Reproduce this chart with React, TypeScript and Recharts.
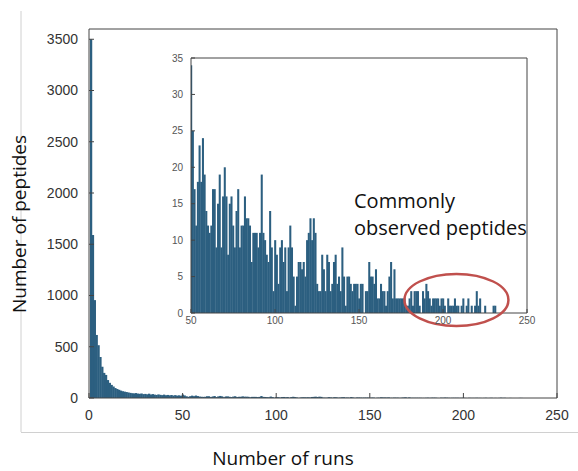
import React from "react";
import { BarChart, Bar, XAxis, YAxis, ReferenceDot } from "recharts";

// peptides seen in exactly N runs, N = 1..49
const earlyCounts = [
  3500, 1590, 955, 615, 515, 400, 305, 245, 225, 175,
  148, 128, 112, 97, 88, 80, 72, 66, 62, 58,
  54, 50, 47, 45, 48, 43, 41, 44, 38, 40,
  36, 42, 34, 38, 33, 30, 35, 31, 28, 33,
  27, 30, 26, 29, 24, 28, 23, 26, 22,
];

// N = 50..231
const tailCounts = [
  34, 25, 17, 12, 18, 23, 18, 24, 19, 14,
  12, 11, 12, 17, 17, 9, 15, 19, 9, 16,
  20, 16, 8, 15, 16, 12, 9, 14, 17, 9,
  12, 12, 16, 13, 13, 12, 7, 11, 11, 11,
  9, 11, 19, 11, 10, 8, 7, 14, 9, 3,
  10, 8, 4, 9, 10, 7, 9, 3, 9, 12,
  9, 5, 1, 5, 7, 7, 6, 7, 5, 10,
  11, 13, 10, 13, 11, 4, 3, 3, 8, 6,
  3, 8, 7, 3, 4, 7, 8, 4, 5, 3,
  9, 5, 1, 5, 5, 4, 3, 4, 4, 4,
  2, 4, 4, 0, 3, 3, 7, 5, 5, 4,
  6, 2, 2, 4, 3, 3, 1, 3, 5, 7,
  2, 6, 2, 2, 2, 2, 2, 2, 1, 1,
  2, 3, 1, 3, 3, 3, 1, 0, 3, 2,
  4, 3, 2, 1, 2, 2, 2, 2, 1, 2,
  2, 1, 0, 2, 1, 1, 1, 2, 1, 1,
  0, 1, 2, 0, 1, 2, 0, 1, 0, 1,
  3, 1, 2, 0, 0, 1, 0, 0, 0, 0,
  1, 1,
];

const mainXTicks = [0, 50, 100, 150, 200, 250];
const mainYTicks = [0, 500, 1000, 1500, 2000, 2500, 3000, 3500];
const insetXTicks = [50, 100, 150, 200, 250];
const insetYTicks = [0, 5, 10, 15, 20, 25, 30, 35];
const noteLines = ["Commonly", "observed peptides"];
const xTitle = "Number of runs";
const yTitle = "Number of peptides";

const data = [...earlyCounts, ...tailCounts].map((count, i) => ({ run: i + 1, count }));
const insetData = data.filter((d) => d.run >= 50);

const BAR = "#2c5f80";
const BOX = "#444";
const TICK_FONT = "Liberation Sans, Arial, sans-serif";
const TEXT_FONT = "Open Sans, sans-serif";

// histogram bin: start where recharts puts the bar, but span the whole bin (+ a hair to hide seams)
const histBin = (w: number) => (p: any) =>
  p.height > 0 ? <rect x={p.x} y={p.y} width={w} height={p.height} fill={BAR} /> : <g />;

export default function App() {
  const mainTick = { fill: "#333", fontSize: 14, fontFamily: TICK_FONT };
  const insetTick = { fill: "#555", fontSize: 10, fontFamily: TICK_FONT };

  return (
    <div style={{ position: "absolute", left: 0, top: 0, width: 578, height: 471, background: "#fff", overflow: "hidden" }}>
      <BarChart width={578} height={471} data={data} margin={{ top: 28, right: 20, bottom: 0, left: 0 }}>
        <XAxis
          xAxisId="b"
          dataKey="run"
          type="number"
          domain={[0, 250]}
          allowDataOverflow
          ticks={mainXTicks}
          height={73}
          tickSize={-5}
          tickMargin={17}
          tick={mainTick}
          stroke={BOX}
        />
        <XAxis
          xAxisId="t"
          orientation="top"
          dataKey="run"
          type="number"
          domain={[0, 250]}
          allowDataOverflow
          ticks={mainXTicks}
          height={1}
          tickSize={-5}
          tick={false}
          stroke={BOX}
        />
        <YAxis
          yAxisId="l"
          type="number"
          domain={[0, 3600]}
          allowDataOverflow
          ticks={mainYTicks}
          width={89}
          tickSize={-5}
          tickMargin={16}
          tick={mainTick}
          stroke={BOX}
        />
        <YAxis
          yAxisId="r"
          orientation="right"
          type="number"
          domain={[0, 3600]}
          allowDataOverflow
          ticks={mainYTicks}
          width={1}
          tickSize={-5}
          tick={false}
          stroke={BOX}
        />
        <Bar xAxisId="b" yAxisId="l" dataKey="count" fill={BAR} barSize={2} shape={histBin(2.3)} isAnimationActive={false} />
        <Bar xAxisId="t" yAxisId="r" dataKey="count" fill="none" barSize={1} isAnimationActive={false} />
      </BarChart>

      <div style={{ position: "absolute", left: 150, top: 50 }}>
        <BarChart width={390} height={290} data={insetData} margin={{ top: 7, right: 12, bottom: 0, left: 0 }}>
          <XAxis
            xAxisId="b"
            dataKey="run"
            type="number"
            domain={[50, 250]}
            allowDataOverflow
            ticks={insetXTicks}
            height={27}
            tickSize={-4}
            tickMargin={8}
            tick={insetTick}
            stroke={BOX}
          />
          <XAxis
            xAxisId="t"
            orientation="top"
            dataKey="run"
            type="number"
            domain={[50, 250]}
            allowDataOverflow
            ticks={insetXTicks}
            height={1}
            tickSize={-4}
            tick={false}
            stroke={BOX}
          />
          <YAxis
            yAxisId="l"
            type="number"
            domain={[0, 35]}
            allowDataOverflow
            ticks={insetYTicks}
            width={41}
            tickSize={-4}
            tickMargin={12}
            tick={insetTick}
            stroke={BOX}
          />
          <YAxis
            yAxisId="r"
            orientation="right"
            type="number"
            domain={[0, 35]}
            allowDataOverflow
            ticks={insetYTicks}
            width={1}
            tickSize={-4}
            tick={false}
            stroke={BOX}
          />
          <Bar xAxisId="b" yAxisId="l" dataKey="count" fill={BAR} barSize={2} shape={histBin(2.05)} isAnimationActive={false} />
          <Bar xAxisId="t" yAxisId="r" dataKey="count" fill="none" barSize={1} isAnimationActive={false} />
          <ReferenceDot
            xAxisId="b"
            yAxisId="l"
            x={208}
            y={1.8}
            ifOverflow="visible"
            shape={(p: any) => (
              <ellipse cx={p.cx} cy={p.cy} rx={52} ry={26} fill="none" stroke="#c0504d" strokeWidth={2.5} />
            )}
          />
        </BarChart>
      </div>

      <svg width={578} height={471} style={{ position: "absolute", left: 0, top: 0, pointerEvents: "none" }}>
        <line x1={21} y1={11} x2={21} y2={432} stroke="#d0d0d0" />
        <line x1={21} y1={432.5} x2={578} y2={432.5} stroke="#d0d0d0" />
        {noteLines.map((t, i) => (
          <text key={t} x={354} y={208 + i * 27} fontFamily={TEXT_FONT} fontSize={20} fill="#111">
            {t}
          </text>
        ))}
        <text x={283} y={465} textAnchor="middle" fontFamily={TEXT_FONT} fontSize={19} fill="#111">
          {xTitle}
        </text>
        <text
          x={0}
          y={0}
          transform="translate(26 224) rotate(-90)"
          textAnchor="middle"
          fontFamily={TEXT_FONT}
          fontSize={19}
          fill="#111"
        >
          {yTitle}
        </text>
      </svg>
    </div>
  );
}
